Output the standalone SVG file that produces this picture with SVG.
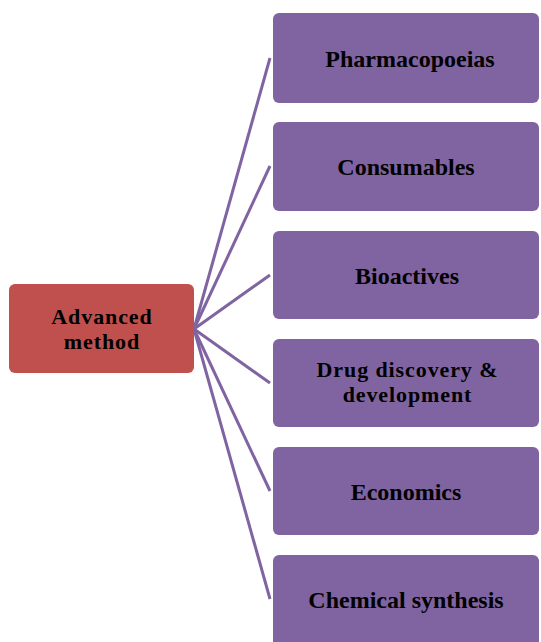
<svg xmlns="http://www.w3.org/2000/svg" width="541" height="642" viewBox="0 0 541 642">
<style>
.p{fill:#8064A2}
.r{fill:#C0504D}
.t{font-family:"Liberation Serif","Times New Roman",serif;font-weight:bold;font-size:24px;fill:#000;text-anchor:middle}
.m{font-size:22px;letter-spacing:0.9px}
.c{stroke:#8064A2;stroke-width:3;fill:none}
</style>
<rect width="541" height="642" fill="#fff"/>
<g id="connectors">
<line class="c" x1="194" y1="329" x2="270" y2="58"/>
<line class="c" x1="194" y1="329" x2="270" y2="166"/>
<line class="c" x1="194" y1="329" x2="270" y2="275"/>
<line class="c" x1="194" y1="329" x2="270" y2="383"/>
<line class="c" x1="194" y1="329" x2="270" y2="491"/>
<line class="c" x1="194" y1="329" x2="270" y2="599"/>
</g>
<g id="advanced"><rect class="r" x="9" y="284" width="185" height="89" rx="6"/><text class="t m" x="102" y="324">Advanced</text><text class="t m" x="102" y="348.5">method</text></g>
<g id="n1"><rect class="p" x="273" y="13" width="266" height="90" rx="6"/><text class="t" x="410" y="66.5">Pharmacopoeias</text></g>
<g id="n2"><rect class="p" x="273" y="122" width="266" height="89" rx="6"/><text class="t" x="406" y="175">Consumables</text></g>
<g id="n3"><rect class="p" x="273" y="231" width="266" height="88" rx="6"/><text class="t" x="407" y="283.5">Bioactives</text></g>
<g id="n4"><rect class="p" x="273" y="339" width="266" height="88" rx="6"/><text class="t m" x="407.5" y="377">Drug discovery &amp;</text><text class="t m" x="407.5" y="401.5">development</text></g>
<g id="n5"><rect class="p" x="273" y="447" width="266" height="88" rx="6"/><text class="t" x="406" y="499.5">Economics</text></g>
<g id="n6"><rect class="p" x="273" y="555" width="266" height="92" rx="6"/><text class="t" x="406" y="607.5">Chemical synthesis</text></g>
</svg>
